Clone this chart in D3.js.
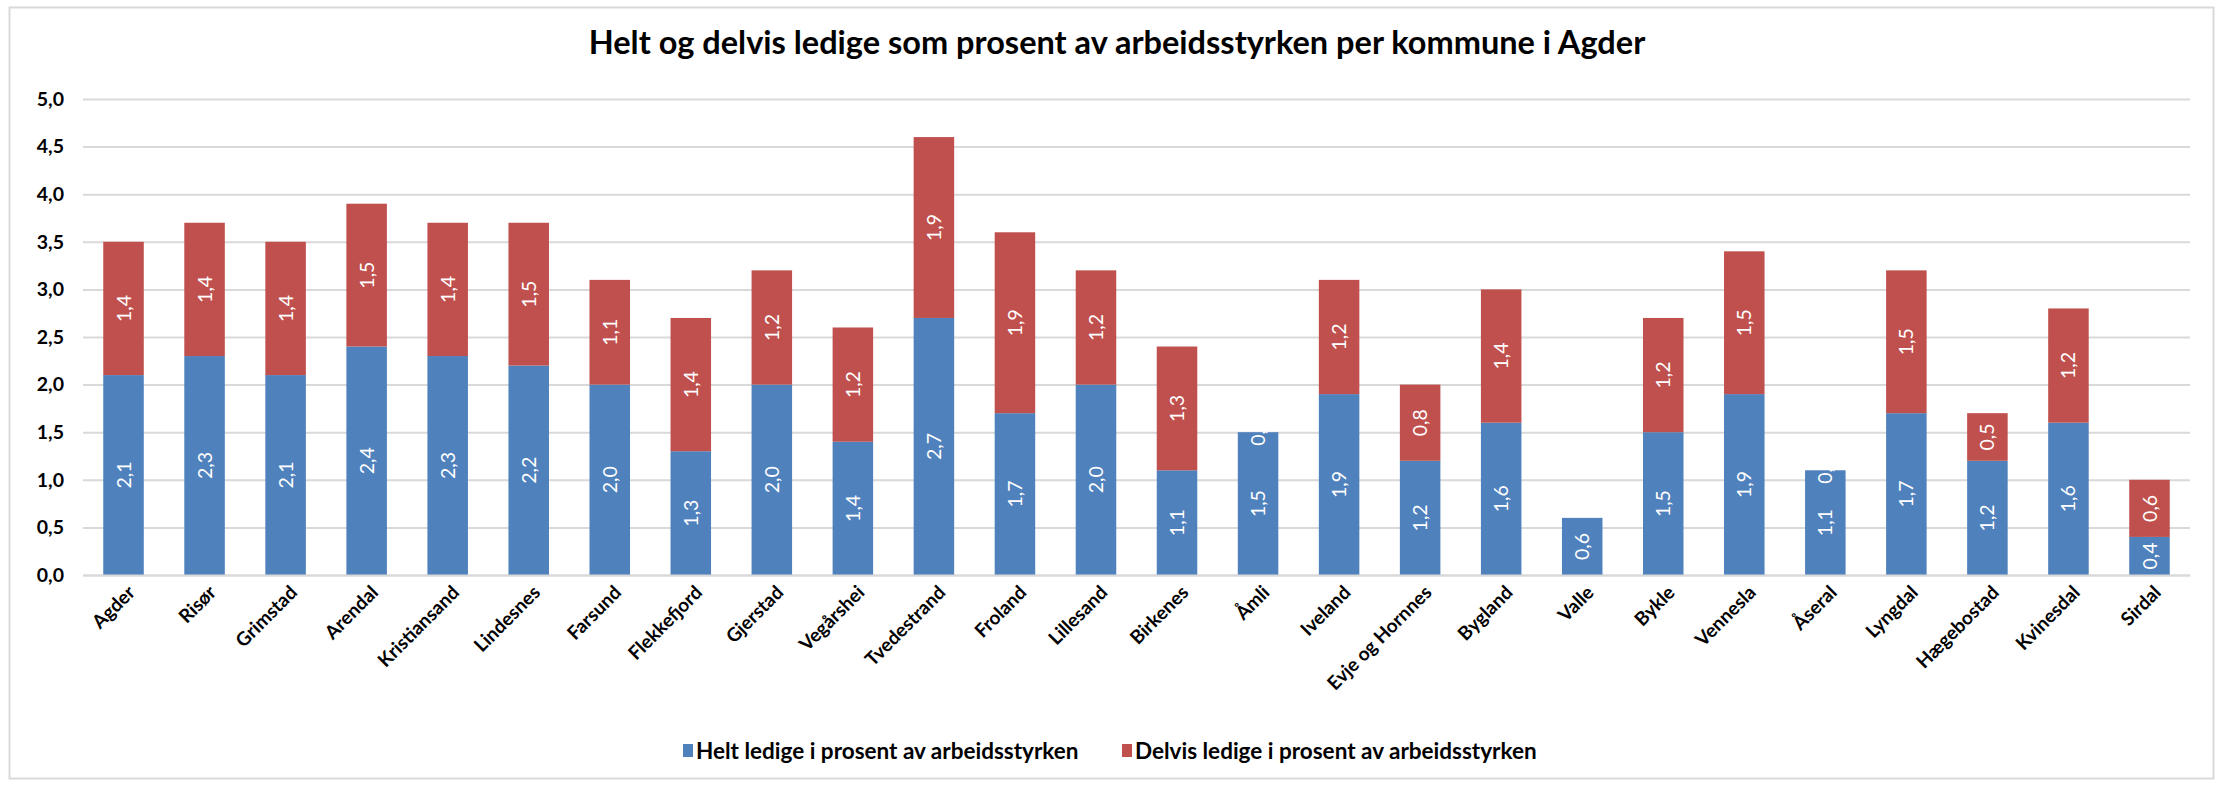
<!DOCTYPE html>
<html><head><meta charset="utf-8">
<script src="https://cdn.jsdelivr.net/npm/d3@7"></script>
<style>body{margin:0;background:#fff}svg{display:block}</style>
</head><body>
<script>
const categories = ["Agder","Risør","Grimstad","Arendal","Kristiansand","Lindesnes","Farsund","Flekkefjord","Gjerstad","Vegårshei","Tvedestrand","Froland","Lillesand","Birkenes","Åmli","Iveland","Evje og Hornnes","Bygland","Valle","Bykle","Vennesla","Åseral","Lyngdal","Hægebostad","Kvinesdal","Sirdal"];
const heltLedige = [2.1,2.3,2.1,2.4,2.3,2.2,2.0,1.3,2.0,1.4,2.7,1.7,2.0,1.1,1.5,1.9,1.2,1.6,0.6,1.5,1.9,1.1,1.7,1.2,1.6,0.4];
const delvisLedige = [1.4,1.4,1.4,1.5,1.4,1.5,1.1,1.4,1.2,1.2,1.9,1.9,1.2,1.3,0.0,1.2,0.8,1.4,null,1.2,1.5,0.0,1.5,0.5,1.2,0.6];
const yTicks = [0,0.5,1,1.5,2,2.5,3,3.5,4,4.5,5];
const seriesNames = ["Helt ledige i prosent av arbeidsstyrken","Delvis ledige i prosent av arbeidsstyrken"];
const colors = ["#4F81BD","#C0504D"];
const title = "Helt og delvis ledige som prosent av arbeidsstyrken per kommune i Agder";

const W = 2221, H = 785;
const m = {left: 83, right: 31, top: 99, bottom: 210};
const font = "Lato, 'Open Sans', sans-serif";
const fmt = v => d3.format(".1f")(v).replace(".", ",");

const svg = d3.select("body").append("svg").attr("width", W).attr("height", H);
svg.append("rect").attr("x",9.5).attr("y",7.5).attr("width",2204).attr("height",771)
  .attr("fill","#fff").attr("stroke","#D9D9D9").attr("stroke-width",2);

const x = d3.scaleBand().domain(categories).range([m.left, W - m.right]).paddingInner(0.5).paddingOuter(0.25);
const y = d3.scaleLinear().domain([0,5]).range([H - m.bottom, m.top]);

// gridlines
const yAxis = d3.axisLeft(y).tickValues(yTicks).tickFormat(fmt).tickSize(-(W - m.right - m.left)).tickPadding(19);
const gy = svg.append("g").attr("transform",`translate(${m.left},0)`).call(yAxis);
gy.select(".domain").remove();
gy.selectAll(".tick line").attr("stroke","#D9D9D9").attr("stroke-width",2);
gy.selectAll(".tick text").attr("font-family",font).attr("font-weight","bold").attr("font-size",19.5).attr("fill","#000");

// stacked data
const data = categories.map((c,i)=>({cat:c, helt:heltLedige[i], delvis:delvisLedige[i]}));
const stack = d3.stack().keys(["helt","delvis"]).value((d,k)=> d[k] == null ? 0 : d[k]);
const series = stack(data);

series.forEach((s,si)=>{
  const g = svg.append("g");
  g.selectAll("rect").data(s.filter(d=>d.data[s.key]!=null)).join("rect")
    .attr("x", d=>x(d.data.cat)).attr("width", x.bandwidth())
    .attr("y", d=>y(d[1])).attr("height", d=>y(d[0])-y(d[1]))
    .attr("fill", colors[si]);
});
series.forEach((s,si)=>{
  const g = svg.append("g");
  g.selectAll("text").data(s.filter(d=>d.data[s.key]!=null)).join("text")
    .attr("transform", d=>`translate(${x(d.data.cat)+x.bandwidth()/2},${(y(d[0])+y(d[1]))/2}) rotate(-90)`)
    .attr("text-anchor","middle").attr("dy","0.36em")
    .attr("font-family",font).attr("font-size",19.5).attr("fill","#fff")
    .text(d=>fmt(d.data[s.key]));
});

// x axis line
const xAxis = d3.axisBottom(x).tickSize(0).tickPadding(0);
const gx = svg.append("g").attr("transform",`translate(0,${y(0)})`).call(xAxis);
gx.select(".domain").attr("stroke","#D9D9D9").attr("stroke-width",2);
gx.selectAll(".tick text")
  .attr("text-anchor","end").attr("font-family",font).attr("font-weight","bold").attr("font-size",19).attr("fill","#000")
  .attr("transform","translate(8,14) rotate(-45)").attr("dy","0.35em").attr("y",0);

// title
svg.append("text").attr("x",1117).attr("y",54).attr("text-anchor","middle")
  .attr("font-family",font).attr("font-weight","bold").attr("font-size",32.5).attr("fill","#000").text(title);

// legend
const legX = [683, 1122];
seriesNames.forEach((n,i)=>{
  svg.append("rect").attr("x",legX[i]).attr("y",744).attr("width",10).attr("height",13).attr("fill",colors[i]);
  svg.append("text").attr("x",legX[i]+13).attr("y",751).attr("dy","0.35em")
    .attr("font-family",font).attr("font-weight","bold").attr("font-size",22.5).attr("fill","#000").text(n);
});
</script>
</body></html>
